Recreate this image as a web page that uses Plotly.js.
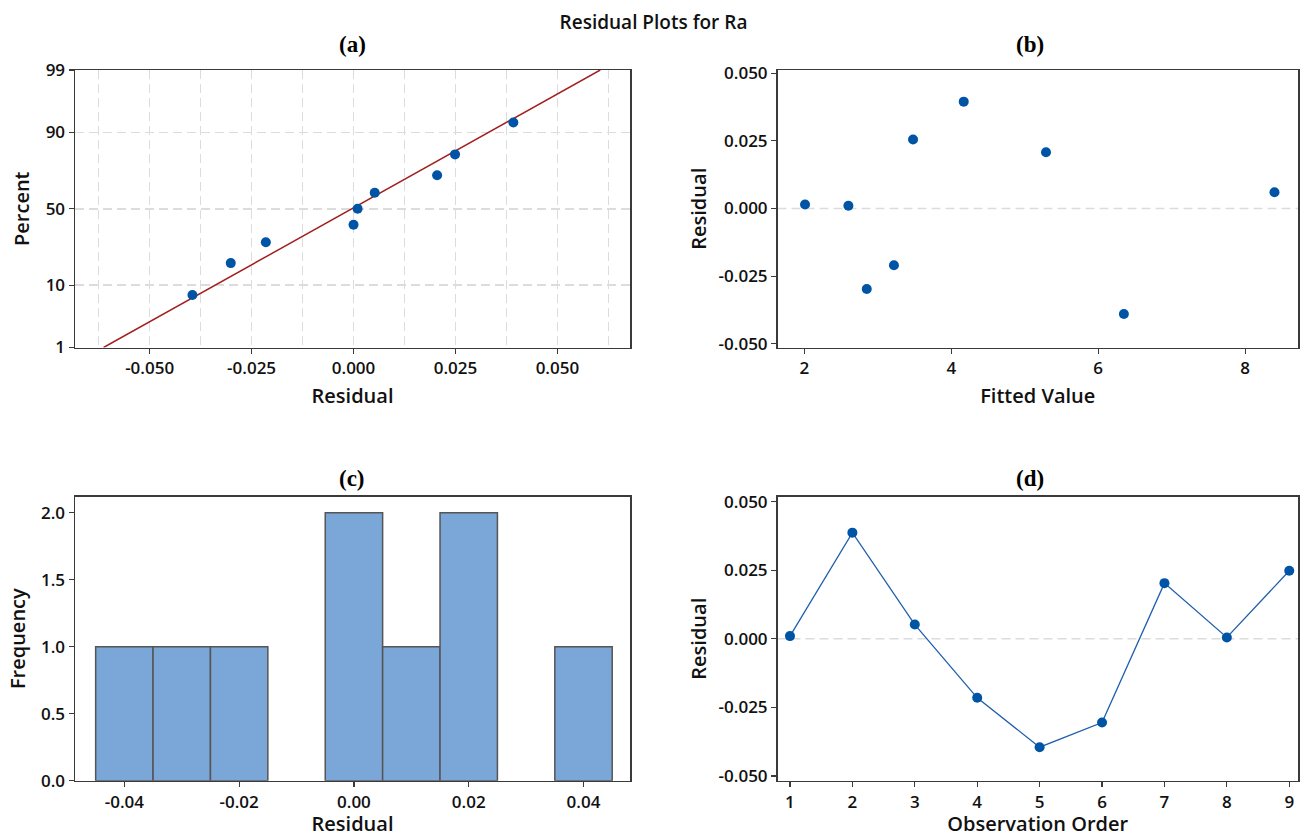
<!DOCTYPE html>
<html>
<head>
<meta charset="utf-8">
<script src="https://cdn.plot.ly/plotly-3.0.1.min.js"></script>
<style>html,body{margin:0;padding:0;background:#fff}#chart{width:1307px;height:837px}</style>
</head>
<body>
<div id="chart"></div>
<script>
// ---------------- data ----------------
const observationOrder = [1, 2, 3, 4, 5, 6, 7, 8, 9];
const residuals = [0.0010, 0.0387, 0.0052, -0.0215, -0.0395, -0.0305, 0.0203, 0.0005, 0.0248];
const fittedValues = [2.01, 4.17, 5.29, 3.22, 6.35, 2.85, 3.48, 2.60, 8.40];
const fittedResiduals = [0.0015, 0.0395, 0.0208, -0.0210, -0.0390, -0.0298, 0.0255, 0.0010, 0.0060];
// normal probability plot (sorted residuals vs. percent)
const probResiduals = [-0.0395, -0.0301, -0.0215, 0.0000, 0.0010, 0.0052, 0.0205, 0.0249, 0.0392];
const probPercent = [7.4, 18.1, 28.7, 39.4, 50.0, 60.6, 71.3, 81.9, 92.6];
const fitLineResid = [-0.0613, 0.0605];
const fitLinePercent = [1, 99];
const percentTicks = [1, 10, 50, 90, 99];
const histBinStart = -0.045, histBinEnd = 0.045, histBinSize = 0.01;

// inverse normal CDF (Acklam) for the probability scale
function normInv(p) {
  const a=[-3.969683028665376e+01,2.209460984245205e+02,-2.759285104469687e+02,1.383577518672690e+02,-3.066479806614716e+01,2.506628277459239e+00];
  const b=[-5.447609879822406e+01,1.615858368580409e+02,-1.556989798598866e+02,6.680131188771972e+01,-1.328068155288572e+01];
  const c=[-7.784894002430293e-03,-3.223964580411365e-01,-2.400758277161838e+00,-2.549732539343734e+00,4.374664141464968e+00,2.938163982698783e+00];
  const d=[7.784695709041462e-03,3.224671290700398e-01,2.445134137142996e+00,3.754408661907416e+00];
  const pl=0.02425, ph=1-pl; let q,r;
  if (p<pl){q=Math.sqrt(-2*Math.log(p));return (((((c[0]*q+c[1])*q+c[2])*q+c[3])*q+c[4])*q+c[5])/((((d[0]*q+d[1])*q+d[2])*q+d[3])*q+1);}
  if (p<=ph){q=p-0.5;r=q*q;return (((((a[0]*r+a[1])*r+a[2])*r+a[3])*r+a[4])*r+a[5])*q/(((((b[0]*r+b[1])*r+b[2])*r+b[3])*r+b[4])*r+1);}
  q=Math.sqrt(-2*Math.log(1-p));return -(((((c[0]*q+c[1])*q+c[2])*q+c[3])*q+c[4])*q+c[5])/((((d[0]*q+d[1])*q+d[2])*q+d[3])*q+1);
}
const z = v => normInv(v/100);

// ---------------- layout helpers ----------------
const W = 1307, H = 837;
const M = {l: 75, r: 9, t: 70, b: 56};
const px2x = p => (p - M.l) / (W - M.l - M.r);
const py2y = p => 1 - (p - M.t) / (H - M.t - M.b);

const FONT = 'Open Sans, Noto Sans, sans-serif';
const MARK = '#0054A6';
const tickFont = {family: FONT, size: 17, color: '#111', weight: 600};
const titleFont = {family: FONT, size: 20, color: '#111', weight: 600};
const gridCol = '#dcdcdc';
const gridDash = '9px,5px';

function axisBase(extra) {
  return Object.assign({
    showline: true, mirror: true, linecolor: '#3a3a3a', linewidth: 1.5,
    ticks: 'outside', ticklen: 5, tickwidth: 1.2, tickcolor: '#3a3a3a',
    tickfont: tickFont, showgrid: false, zeroline: false
  }, extra);
}

const traces = [
  // (a) normal probability plot
  {x: fitLineResid, y: fitLinePercent.map(z), type: 'scatter', mode: 'lines',
   line: {color: '#A31F1F', width: 1.5}, xaxis: 'x', yaxis: 'y', hoverinfo: 'skip', showlegend: false},
  {x: probResiduals, y: probPercent.map(z), type: 'scatter', mode: 'markers',
   marker: {color: MARK, size: 10}, xaxis: 'x', yaxis: 'y', showlegend: false},
  // (b) versus fits
  {x: fittedValues, y: fittedResiduals, type: 'scatter', mode: 'markers',
   marker: {color: MARK, size: 10}, xaxis: 'x2', yaxis: 'y2', showlegend: false},
  // (c) histogram
  {x: residuals, type: 'histogram', xbins: {start: histBinStart, end: histBinEnd, size: histBinSize},
   marker: {color: '#7BA6D8', line: {color: '#555555', width: 1.5}}, xaxis: 'x3', yaxis: 'y3', showlegend: false},
  // (d) versus order
  {x: observationOrder, y: residuals, type: 'scatter', mode: 'lines+markers',
   line: {color: '#1F5FAD', width: 1.3}, marker: {color: MARK, size: 10},
   xaxis: 'x4', yaxis: 'y4', showlegend: false}
];

const xL = [px2x(75), px2x(630)];
const xR = [px2x(777.5), px2x(1298)];
const yT = [py2y(347.5), py2y(70)];
const yB = [Math.max(0, py2y(780.7)), py2y(496.7)];

const resTicks = [-0.05, -0.025, 0, 0.025, 0.05];
const resText = ['-0.050', '-0.025', '0.000', '0.025', '0.050'];

const layout = {
  width: W, height: H, margin: M,
  paper_bgcolor: '#fff', plot_bgcolor: '#fff',
  font: {family: FONT, color: '#111'},
  bargap: 0, showlegend: false,
  title: {text: 'Residual Plots for Ra', x: 0.5, xref: 'container', xanchor: 'center',
          y: 1 - 22 / H, yref: 'container', yanchor: 'middle',
          font: {family: FONT, size: 19, color: '#111', weight: 600}},
  xaxis: axisBase({domain: xL, anchor: 'y', range: [-0.0683, 0.0678],
    tickvals: resTicks, ticktext: resText,
    minor: {dtick: 0.0125, tick0: 0, showgrid: true, gridcolor: gridCol, griddash: gridDash, gridwidth: 1.5, ticks: ''},
    title: {text: 'Residual', font: titleFont, standoff: 10}}),
  yaxis: axisBase({domain: yT, anchor: 'x', range: [z(1), z(99)],
    tickvals: percentTicks.map(z), ticktext: percentTicks.map(String),
    showgrid: true, gridcolor: gridCol, griddash: gridDash, gridwidth: 1.5,
    title: {text: 'Percent', font: titleFont, standoff: 10}}),
  xaxis2: axisBase({domain: xR, anchor: 'y2', range: [1.635, 8.72], tickvals: [2, 4, 6, 8],
    title: {text: 'Fitted Value', font: titleFont, standoff: 10}}),
  yaxis2: axisBase({domain: yT, anchor: 'x2', range: [-0.0514, 0.0512],
    tickvals: resTicks, ticktext: resText,
    title: {text: 'Residual', font: titleFont, standoff: 6}}),
  xaxis3: axisBase({domain: xL, anchor: 'y3', range: [-0.0486, 0.0481],
    tickvals: [-0.04, -0.02, 0, 0.02, 0.04], ticktext: ['-0.04', '-0.02', '0.00', '0.02', '0.04'],
    title: {text: 'Residual', font: titleFont, standoff: 10}}),
  yaxis3: axisBase({domain: yB, anchor: 'x3', range: [0, 2.12],
    tickvals: [0, 0.5, 1, 1.5, 2], ticktext: ['0.0', '0.5', '1.0', '1.5', '2.0'],
    title: {text: 'Frequency', font: titleFont, standoff: 10}}),
  xaxis4: axisBase({domain: xR, anchor: 'y4', range: [0.80, 9.14], tickvals: observationOrder,
    title: {text: 'Observation Order', font: titleFont, standoff: 10}}),
  yaxis4: axisBase({domain: yB, anchor: 'x4', range: [-0.0517, 0.0518],
    tickvals: resTicks, ticktext: resText,
    title: {text: 'Residual', font: titleFont, standoff: 6}}),
  shapes: [
    {type: 'line', xref: 'x2 domain', yref: 'y2', x0: 0, x1: 1, y0: 0, y1: 0, layer: 'below',
     line: {color: gridCol, width: 1.5, dash: gridDash}},
    {type: 'line', xref: 'x4 domain', yref: 'y4', x0: 0, x1: 1, y0: 0, y1: 0, layer: 'below',
     line: {color: gridCol, width: 1.5, dash: gridDash}}
  ],
  annotations: [
    {text: '(a)', x: px2x(352), y: py2y(45)},
    {text: '(b)', x: px2x(1030), y: py2y(45)},
    {text: '(c)', x: px2x(352), y: py2y(478)},
    {text: '(d)', x: px2x(1030), y: py2y(478)}
  ].map(a => Object.assign(a, {xref: 'paper', yref: 'paper', showarrow: false,
     xanchor: 'center', yanchor: 'middle',
     font: {family: 'Liberation Serif, Times New Roman, serif', size: 23, color: '#000', weight: 700}}))
};

Plotly.newPlot('chart', traces, layout, {displayModeBar: false, staticPlot: true});
</script>
</body>
</html>
